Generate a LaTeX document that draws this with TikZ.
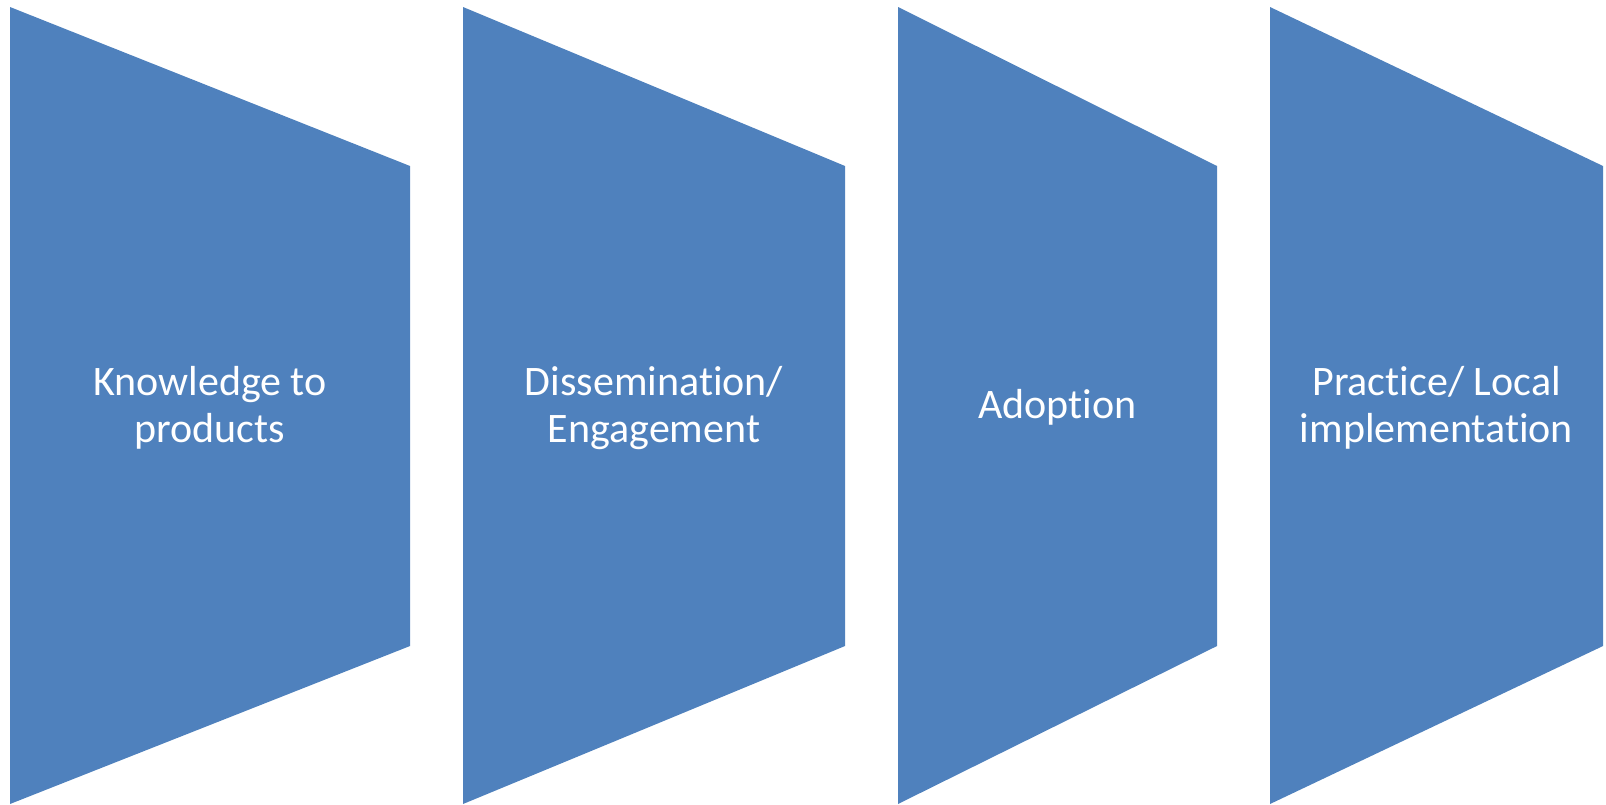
\documentclass[tikz,border=0pt]{standalone}
\usepackage{fontspec}
\setmainfont{Carlito}[Ligatures=NoCommon]
\definecolor{stageblue}{HTML}{4F81BD}
\begin{document}
\begin{tikzpicture}[x=0.75pt,y=-0.75pt,
  stagebox/.style={fill=stageblue,draw=none},
  stagetext/.style={text=white,align=center,font=\fontsize{31.5pt}{35.25pt}\selectfont,inner sep=0pt,anchor=base}]
\useasboundingbox (0,0) rectangle (1606,804);
% shapes
\path[stagebox] (10,7) -- (410,166) -- (410,646) -- (10,804) -- cycle;
\path[stagebox] (463,7) -- (845,166) -- (845,646) -- (463,804) -- cycle;
\path[stagebox] (898,7) -- (1217,166) -- (1217,646) -- (898,804) -- cycle;
\path[stagebox] (1270,7) -- (1603,166) -- (1603,646) -- (1270,804) -- cycle;
% labels
\node[stagetext] (t1) at (210,442) {Knowledge to\\products};
\node[stagetext] (t2) at (654,442) {Dissemination/\\Engagement};
\node[stagetext] (t3) at (1057.5,418.5) {Adoption};
\node[stagetext] (t4) at (1436.5,442) {Practice/ Local\\implementation};
\end{tikzpicture}
\end{document}
